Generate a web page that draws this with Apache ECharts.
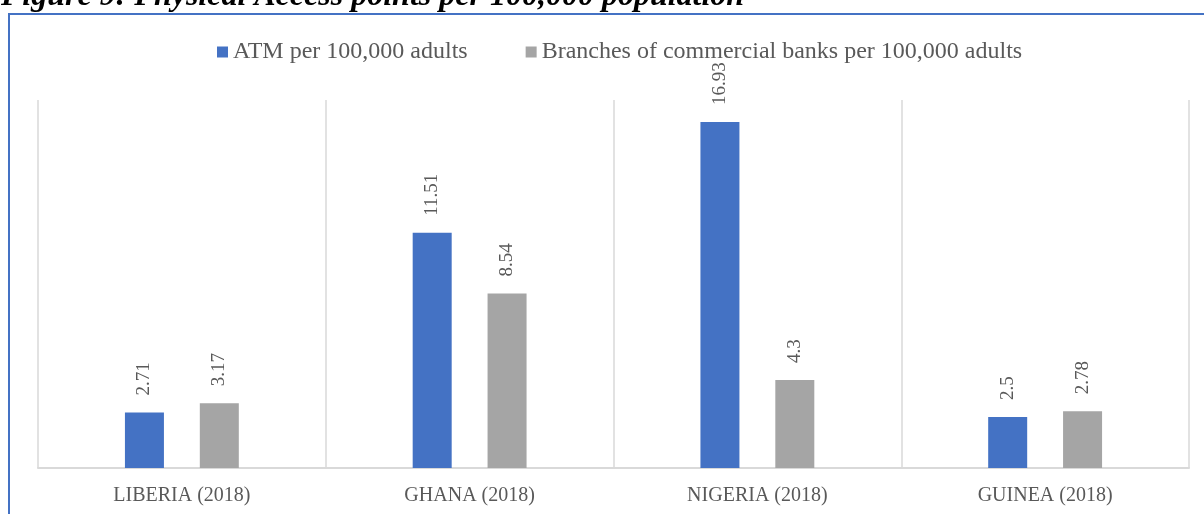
<!DOCTYPE html>
<html>
<head>
<meta charset="utf-8">
<script src="https://cdn.jsdelivr.net/npm/echarts@6/dist/echarts.min.js"></script>
<style>html,body{margin:0;padding:0;background:#fff}#c{width:1204px;height:514px}</style>
</head>
<body>
<div id="c"></div>
<script>
const titleText = 'Figure 9: Physical Access points per 100,000 population';
const categories = ['LIBERIA (2018)', 'GHANA (2018)', 'NIGERIA (2018)', 'GUINEA (2018)'];
const seriesNames = ['ATM per 100,000 adults', 'Branches of commercial banks per 100,000 adults'];
const atmValues = [2.71, 11.51, 16.93, 2.5];
const branchValues = [3.17, 8.54, 4.3, 2.78];
const colors = ['#4472C4', '#A5A5A5'];

const font = '"Liberation Serif", "Times New Roman", serif';
const chart = echarts.init(document.getElementById('c'));
const label = {
  show: true, position: 'top', rotate: 90, align: 'left', verticalAlign: 'middle',
  distance: 17, color: '#595959', fontSize: 19, fontFamily: font
};
chart.setOption({
  animation: false,
  color: colors,
  graphic: [
    { type: 'rect', shape: { x: 9, y: 14, width: 1400, height: 700 }, style: { fill: 'none', stroke: '#4472C4', lineWidth: 2 }, z: 0 },
    { type: 'text', x: 1, y: 13, style: { text: titleText, font: 'italic bold 32px ' + font, fill: '#000', verticalAlign: 'bottom' } }
  ],
  legend: {
    top: 35, left: 212, itemWidth: 11, itemHeight: 11, itemGap: 58, icon: 'rect',
    textStyle: { color: '#595959', fontSize: 24, fontFamily: font },
    data: seriesNames
  },
  grid: { left: 38, right: 15, top: 100, bottom: 46 },
  xAxis: {
    type: 'category', data: categories,
    axisLine: { lineStyle: { color: '#D9D9D9', width: 2 } },
    axisTick: { show: false },
    splitLine: { show: true, lineStyle: { color: '#D9D9D9', width: 1.5 } },
    axisLabel: { color: '#595959', fontSize: 20, fontFamily: font, margin: 18 }
  },
  yAxis: { type: 'value', min: 0, max: 18, show: false, splitLine: { show: false } },
  series: [
    { name: seriesNames[0], type: 'bar', data: atmValues, barWidth: 39, barGap: '92%', label: label },
    { name: seriesNames[1], type: 'bar', data: branchValues, barWidth: 39, barGap: '92%', label: label }
  ]
});
</script>
</body>
</html>
